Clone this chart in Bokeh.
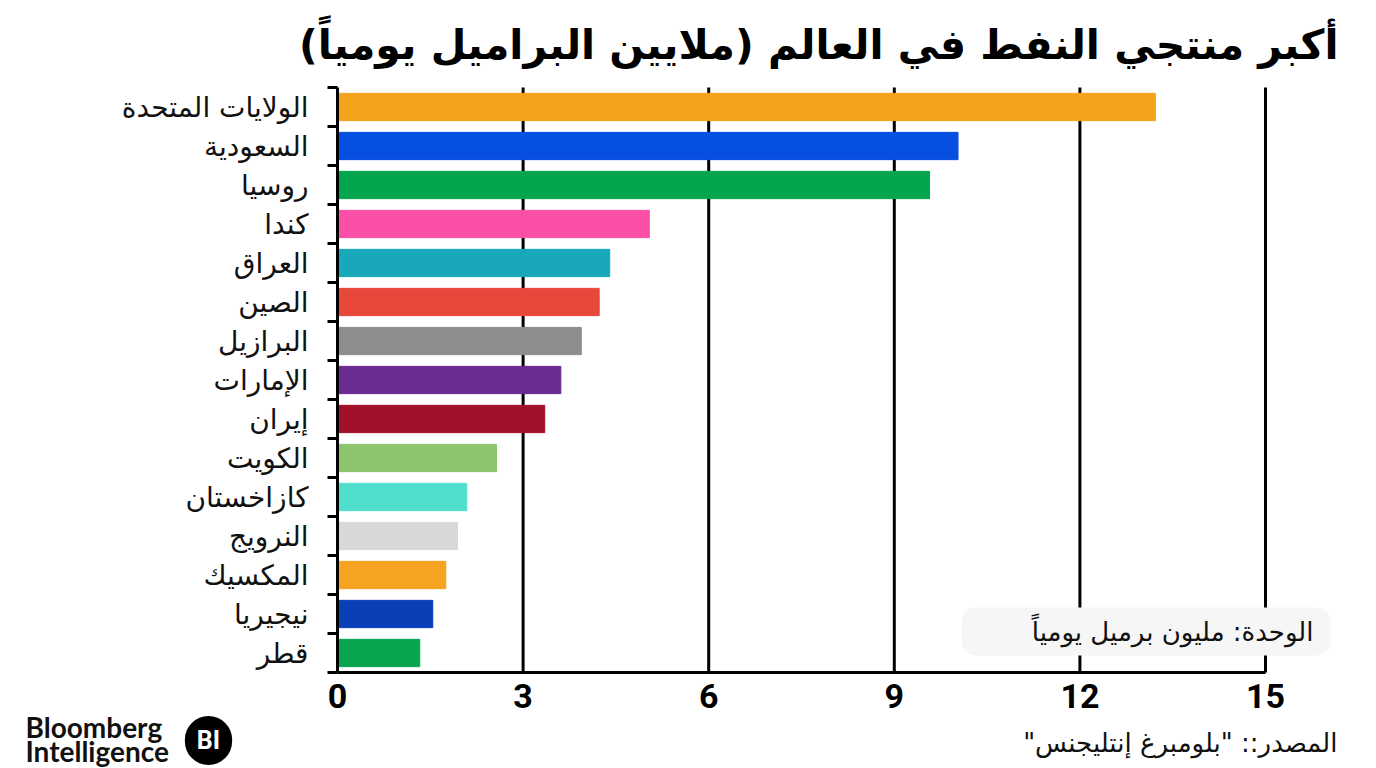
from bokeh.plotting import figure
from bokeh.models import Range1d, FixedTicker, Label, ColumnDataSource
from bokeh.embed import file_html
from bokeh.resources import INLINE

# ---------------- data ----------------
countries = ["الولايات المتحدة", "السعودية", "روسيا", "كندا", "العراق", "الصين",
             "البرازيل", "الإمارات", "إيران", "الكويت", "كازاخستان", "النرويج",
             "المكسيك", "نيجيريا", "قطر"]
production = [13.22, 10.03, 9.57, 5.04, 4.40, 4.23, 3.94, 3.61, 3.35,
              2.57, 2.09, 1.94, 1.75, 1.54, 1.33]
bar_colors = ["#F5A21C", "#074FE0", "#03A64F", "#F94FA6", "#19A8B9", "#E8473C",
              "#8D8D8D", "#6C2B92", "#A3102C", "#8CC56C", "#50DFCD", "#D8D8D8",
              "#F6A322", "#0B3FB8", "#07A550"]
x_ticks = [0, 3, 6, 9, 12, 15]
grid_ticks = [3, 6, 9, 12, 15]

RLM = "\u200f"
title_text = RLM + "أكبر منتجي النفط في العالم (ملايين البراميل يومياً)" + RLM
unit_text = "الوحدة: مليون برميل يومياً"
source_text = RLM + "المصدر:: \"بلومبرغ إنتليجنس\"" + RLM

# ---------------- layout constants (pixels) ----------------
W, H = 1376, 768
AX0 = 337      # pixel of value 0
AX15 = 1265    # pixel of value 15
TOP = 87       # top edge of the category bands
BOT = 672      # bottom edge of the category bands (x axis line)
n = len(countries)
Y0, Y1 = -0.5, n - 0.5
XMAX = x_ticks[-1]
PPX = (AX15 - AX0) / XMAX
PPY = (BOT - TOP) / (Y1 - Y0)


def dx(px):
    return (px - AX0) / PPX


def dy(py):
    return Y0 + (BOT - py) / PPY


ypos = [n - 1 - i for i in range(n)]
src = ColumnDataSource(dict(y=ypos, value=production, color=bar_colors, name=countries))

p = figure(width=W, height=H, output_backend="svg", toolbar_location=None,
           x_range=Range1d(dx(0), dx(W)), y_range=Range1d(dy(H), dy(0)),
           min_border=0)
p.outline_line_color = None
p.background_fill_color = "white"
p.border_fill_color = "white"
p.xgrid.visible = False
p.ygrid.visible = False

# vertical gridlines, spanning only the category bands
p.segment(x0=grid_ticks, x1=grid_ticks, y0=[Y0] * len(grid_ticks), y1=[Y1] * len(grid_ticks),
          line_color="black", line_width=3)

p.hbar(y="y", left=0, right="value", height=0.7, color="color", source=src)

# x axis
xa = p.xaxis[0]
xa.fixed_location = Y0
xa.bounds = (0, XMAX)
xa.ticker = FixedTicker(ticks=x_ticks)
xa.axis_line_color = "black"
xa.axis_line_width = 3
xa.major_tick_out = 0
xa.major_tick_in = 0
xa.minor_tick_out = 0
xa.minor_tick_in = 0
xa.major_label_standoff = 11
xa.major_label_text_font = "Roboto"
xa.major_label_text_font_style = "bold"
xa.major_label_text_font_size = "34px"
xa.major_label_text_color = "black"

# y axis
ya = p.yaxis[0]
ya.fixed_location = 0
ya.bounds = (Y0, Y1)
ya.ticker = FixedTicker(ticks=ypos, minor_ticks=[k - 0.5 for k in range(n + 1)])
ya.major_label_overrides = {y: c for y, c in zip(ypos, countries)}
ya.axis_line_color = "black"
ya.axis_line_width = 3
ya.major_tick_out = 0
ya.major_tick_in = 0
ya.minor_tick_out = 10
ya.minor_tick_in = 0
ya.minor_tick_line_width = 3
ya.minor_tick_line_color = "black"
ya.major_label_standoff = 19
ya.major_label_text_font = "DejaVu Sans"
ya.major_label_text_font_size = "28px"
ya.major_label_text_color = "#111111"

# title
p.add_layout(Label(x=dx(1338), y=dy(44), text=title_text, text_align="right",
                   text_baseline="alphabetic", text_font="DejaVu Sans",
                   text_font_style="bold", text_font_size="41px", text_color="black"))

# unit note with light box
p.add_layout(Label(x=dx(1330), y=dy(631), text=unit_text, text_align="right",
                   text_baseline="middle", text_font="DejaVu Sans",
                   text_font_size="26px", text_color="#111111",
                   background_fill_color="#f6f6f6", border_radius=14,
                   padding=dict(left=70, right=17, top=9, bottom=9)))

# source
p.add_layout(Label(x=dx(1337), y=dy(742), text=source_text, text_align="right",
                   text_baseline="alphabetic", text_font="DejaVu Sans",
                   text_font_size="26px", text_color="#111111"))

# Bloomberg Intelligence logo
p.add_layout(Label(x=dx(25), y=dy(726), text="Bloomberg", text_align="left",
                   text_baseline="alphabetic", text_font="Lato",
                   text_font_style="bold", text_font_size="28px", text_color="#111111"))
p.add_layout(Label(x=dx(25), y=dy(750), text="Intelligence", text_align="left",
                   text_baseline="alphabetic", text_font="Lato",
                   text_font_style="bold", text_font_size="28px", text_color="#111111"))
p.add_layout(Label(x=dx(208), y=dy(740), text="BI", text_align="center",
                   text_baseline="middle", text_font="Roboto",
                   text_font_style="bold", text_font_size="25px", text_color="white",
                   background_fill_color="black", border_radius=25,
                   padding=dict(left=12, right=12, top=10, bottom=10)))

open("out.html", "w").write(file_html(p, INLINE))
